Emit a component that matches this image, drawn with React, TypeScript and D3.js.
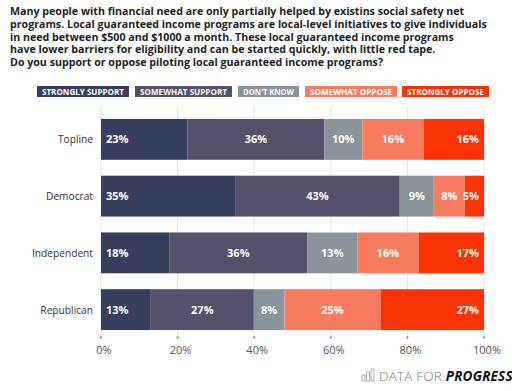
import React from 'react';
import * as d3 from 'd3';

const titleLines = [
  'Many people with financial need are only partially helped by existins social safety net',
  'programs. Local guaranteed income programs are local-level initiatives to give individuals',
  'in need between $500 and $1000 a month. These local guaranteed income programs',
  'have lower barriers for eligibility and can be started quickly, with little red tape.',
  'Do you support or oppose piloting local guaranteed income programs?',
];

const groups = ['Topline', 'Democrat', 'Independent', 'Republican'];
const responses = ['STRONGLY SUPPORT', 'SOMEWHAT SUPPORT', "DON'T KNOW", 'SOMEWHAT OPPOSE', 'STRONGLY OPPOSE'];
const colors = ['#383e5e', '#55516a', '#8b939b', '#f97b5f', '#f93306'];

// shares per group, in response order (bar widths)
const topline = [22.6, 35.7, 9.9, 16.0, 15.8];
const democrat = [35.0, 43.0, 8.9, 8.1, 5.0];
const independent = [17.8, 36.1, 13.0, 16.0, 17.1];
const republican = [13.0, 26.9, 8.0, 25.1, 27.0];

// labels as printed on the chart
const toplineLabels = [23, 36, 10, 16, 16];
const democratLabels = [35, 43, 9, 8, 5];
const independentLabels = [18, 36, 13, 16, 17];
const republicanLabels = [13, 27, 8, 25, 27];

const ticks = [0, 20, 40, 60, 80, 100];

const width = 512;
const height = 391;
const margin = { left: 101, right: 28, top: 119, bottom: 61 };

export default function App() {
  const values = [topline, democrat, independent, republican];
  const labels = [toplineLabels, democratLabels, independentLabels, republicanLabels];

  const x = d3.scaleLinear().domain([0, 100]).range([margin.left, width - margin.right]);
  const y = d3.scaleBand()
    .domain(groups)
    .range([margin.top - 8, height - margin.bottom + 8])
    .paddingInner(0.28)
    .paddingOuter(0.14);

  const stacked = values.map(row => {
    let acc = 0;
    return row.map(v => {
      const s = acc;
      acc += v;
      return [s, acc];
    });
  });

  const legendX = [37, 135, 238, 305, 402];
  const legendW = [92, 97, 61, 92, 87];

  const font = '"Open Sans", Lato, sans-serif';

  return (
    <svg width={width} height={height} style={{ position: 'absolute', left: 0, top: 0, background: '#fff' }}>
      <rect width={width} height={height} fill="#fff" />
      {titleLines.map((t, i) => (
        <text key={i} x={10} y={15 + i * 12.8} fontFamily={font} fontWeight={700} fontSize={10.65} fill="#1e1e1e">
          {t}
        </text>
      ))}

      {responses.map((r, i) => (
        <g key={r}>
          <rect x={legendX[i]} y={86} width={legendW[i]} height={11} fill={colors[i]} />
          <text x={legendX[i] + 5} y={94.6} textLength={legendW[i] - 10} lengthAdjust="spacingAndGlyphs"
            fontFamily={font} fontWeight={700} fontSize={8} fill="#fff">
            {r}
          </text>
        </g>
      ))}

      {ticks.map(t => (
        <g key={t}>
          <line x1={x(t)} x2={x(t)} y1={107} y2={337} stroke="#e2e2e2" strokeWidth={1} />
          <circle cx={x(t)} cy={337.5} r={1.2} fill="#999" />
          <text x={x(t) + 3} y={354} textAnchor="middle" fontFamily={font} fontSize={11} fill="#555">
            {t}%
          </text>
        </g>
      ))}

      {groups.map((g, gi) => {
        const y0 = y(g) as number;
        const bh = y.bandwidth();
        return (
          <g key={g}>
            <text x={93} y={y0 + bh / 2 + 4} textAnchor="end" fontFamily={font} fontSize={10.2} fill="#333">
              {g}
            </text>
            {stacked[gi].map(([s, e], i) => {
              const last = i === stacked[gi].length - 1;
              const lx = i === 0 ? x(s) + 5 : last ? x(e) - 5 : (x(s) + x(e)) / 2;
              const anchor = i === 0 ? 'start' : last ? 'end' : 'middle';
              return (
                <g key={i}>
                  <rect x={x(s)} y={y0} width={x(e) - x(s)} height={bh} fill={colors[i]} />
                  <text x={lx} y={y0 + bh / 2 + 4} textAnchor={anchor} fontFamily={font} fontWeight={700} fontSize={11} fill="#fff">
                    {labels[gi][i]}%
                  </text>
                </g>
              );
            })}
          </g>
        );
      })}

      <g transform="translate(362,369)" fill="none" stroke="#999" strokeWidth={0.8}>
        <rect x={0} y={6} width={3} height={6} />
        <rect x={4.5} y={3} width={3} height={9} />
        <rect x={9} y={0} width={3} height={12} />
      </g>
      <text x={379} y={380.5} fontFamily={font} fontSize={13.5} fill="#777" fontWeight={300} letterSpacing={0.2}>
        DATA FOR <tspan fontWeight={700} fontStyle="italic" fill="#111">PROGRESS</tspan>
      </text>
    </svg>
  );
}
